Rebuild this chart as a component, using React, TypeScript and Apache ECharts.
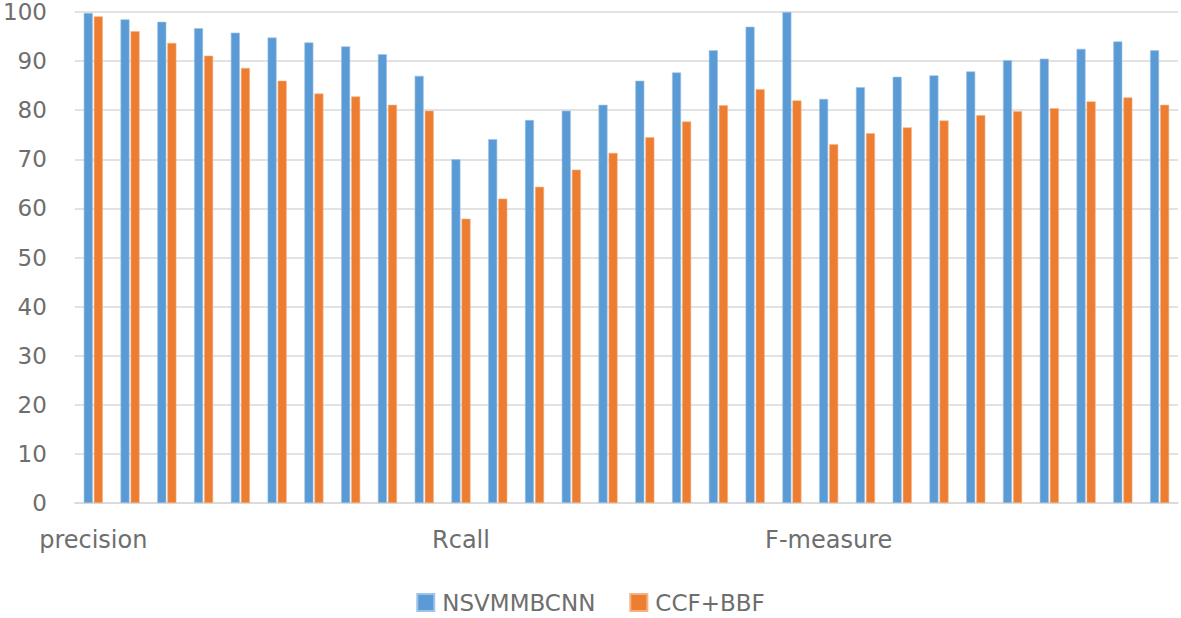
import React, { useEffect, useRef } from "react";
import * as echarts from "echarts";

const groups = ["precision", "Rcall", "F-measure"];
const perGroup = 10;
const categories: string[] = groups.flatMap((g) =>
  Array.from({ length: perGroup }, (_, i) => `${g} ${i + 1}`)
);
const seriesNames = ["NSVMMBCNN", "CCF+BBF"];
const nsvmmbcnn = [
  99.8, 98.5, 98.0, 96.7, 95.8, 94.8, 93.8, 93.0, 91.4, 87.0,
  70.0, 74.1, 78.0, 79.9, 81.1, 86.0, 87.7, 92.2, 97.0, 100.0,
  82.3, 84.7, 86.8, 87.1, 87.9, 90.2, 90.5, 92.5, 94.0, 92.2,
];
const ccfBbf = [
  99.1, 96.1, 93.7, 91.1, 88.6, 86.0, 83.4, 82.8, 81.1, 79.9,
  57.9, 62.0, 64.4, 67.9, 71.3, 74.5, 77.7, 81.0, 84.3, 82.0,
  73.1, 75.3, 76.5, 77.9, 79.0, 79.8, 80.4, 81.8, 82.6, 81.1,
];
const yTicks = { min: 0, max: 100, interval: 10 };

const FONT = "DejaVu Sans";
const TEXT = "#6e6e6e";

export default function App() {
  const ref = useRef<HTMLDivElement>(null);
  useEffect(() => {
    if (!ref.current) return;
    const chart = echarts.init(ref.current, null, { renderer: "svg" });
    chart.setOption({
      animation: false,
      backgroundColor: "#ffffff",
      textStyle: { fontFamily: FONT },
      grid: { left: 71, right: 3, top: 12, bottom: 115, containLabel: false },
      legend: {
        data: seriesNames,
        top: 591,
        left: "center",
        padding: 0,
        itemWidth: 17,
        itemHeight: 17,
        itemGap: 34,
        icon: "rect",
        textStyle: {
          fontFamily: FONT,
          fontSize: 23,
          lineHeight: 20,
          color: TEXT,
          padding: [0, 0, 0, 3],
        },
      },
      xAxis: {
        type: "category",
        data: categories,
        axisLine: { show: true, lineStyle: { color: "#d9d9d9", width: 1.5 } },
        axisTick: { show: false },
        axisLabel: {
          interval: 0,
          margin: 25,
          fontFamily: FONT,
          fontSize: 24,
          color: TEXT,
          formatter: (_v: string, i: number) =>
            i % perGroup === 0 ? groups[Math.floor(i / perGroup)] : "",
        },
      },
      yAxis: {
        type: "value",
        min: yTicks.min,
        max: yTicks.max,
        interval: yTicks.interval,
        axisLine: { show: false },
        axisTick: { show: false },
        splitLine: { lineStyle: { color: "#d9d9d9", width: 1.5 } },
        axisLabel: { margin: 28, fontFamily: FONT, fontSize: 23, color: TEXT },
      },
      series: [
        {
          name: seriesNames[0],
          type: "bar",
          data: nsvmmbcnn,
          barWidth: 9,
          barGap: "12%",
          itemStyle: { color: "#5B9BD5", borderColor: "#9DC3E6", borderWidth: 0.6 },
        },
        {
          name: seriesNames[1],
          type: "bar",
          data: ccfBbf,
          barWidth: 9,
          barGap: "12%",
          itemStyle: { color: "#ED7D31", borderColor: "#F4B183", borderWidth: 0.6 },
        },
      ],
    });
    return () => chart.dispose();
  }, []);
  return (
    <div
      ref={ref}
      style={{ position: "fixed", left: 0, top: 0, width: 1181, height: 618 }}
    />
  );
}
